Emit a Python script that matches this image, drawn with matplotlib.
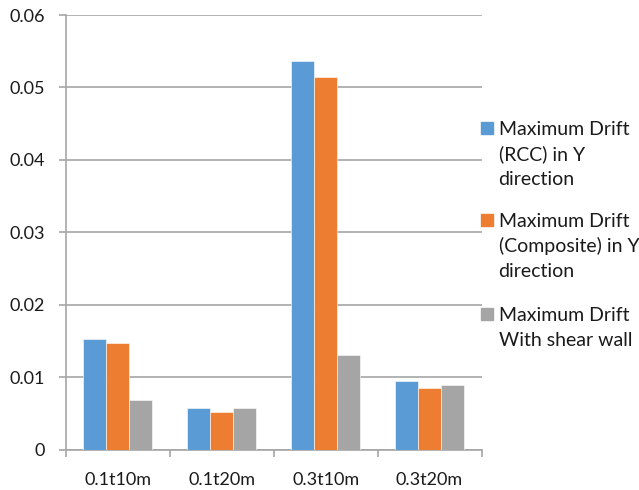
import matplotlib.pyplot as plt
import numpy as np
from matplotlib.patches import Rectangle

plt.rcParams['font.family'] = ['Lato', 'DejaVu Sans']

cases = ["0.1t10m", "0.1t20m", "0.3t10m", "0.3t20m"]
drift_rcc = [0.0152, 0.0057, 0.0536, 0.0094]
drift_composite = [0.0147, 0.0052, 0.0514, 0.0085]
drift_shear_wall = [0.0069, 0.0057, 0.0130, 0.0089]

series = [
    ("Maximum Drift\n(RCC) in Y\ndirection", drift_rcc, "#5B9BD5"),
    ("Maximum Drift\n(Composite) in Y\ndirection", drift_composite, "#ED7D31"),
    ("Maximum Drift\nWith shear wall", drift_shear_wall, "#A5A5A5"),
]

W, H = 639, 490
fig = plt.figure(figsize=(W / 100, H / 100), dpi=100)
ax = fig.add_axes([65.7 / W, 1 - 449.5 / H, (481.5 - 65.7) / W, (449.5 - 15) / H])

x = np.arange(len(cases))
width = 0.222
for i, (label, vals, color) in enumerate(series):
    ax.bar(x + (i - 1) * width, vals, width, color=color, label=label,
           edgecolor="white", linewidth=0.4, zorder=3)

ax.set_xlim(-0.5, len(cases) - 0.5)
ax.set_ylim(0, 0.06)
ax.set_yticks(np.arange(0, 0.061, 0.01))
ax.set_yticklabels(["0", "0.01", "0.02", "0.03", "0.04", "0.05", "0.06"])
ax.yaxis.grid(True, color="#A6A6A6", linewidth=1.2, zorder=0)

# category labels centered, tick marks between groups
ax.set_xticks(x)
ax.set_xticklabels(cases)
ax.set_xticks(np.arange(-0.5, len(cases), 1), minor=True)
ax.tick_params(axis="x", which="major", length=0, pad=16)
ax.tick_params(axis="x", which="minor", length=5, color="#A6A6A6", width=1.2)
ax.tick_params(axis="y", length=5, color="#A6A6A6", width=1.2, pad=10)
ax.tick_params(labelsize=13, labelcolor="#1a1a1a")

for side in ["top", "right"]:
    ax.spines[side].set_visible(False)
for side in ["left", "bottom"]:
    ax.spines[side].set_color("#A6A6A6")
    ax.spines[side].set_linewidth(1.2)

# legend drawn by hand: square beside the first line of each wrapped label
first_baselines = [135, 227, 321]
line_pitch = 25
for (label, _, color), base in zip(series, first_baselines):
    fig.patches.append(Rectangle((481 / W, 1 - (base - 1) / H), 12 / W, 12 / H,
                                 transform=fig.transFigure, color=color))
    for k, line in enumerate(label.split("\n")):
        fig.text(498.5 / W, 1 - (base + k * line_pitch) / H, line,
                 fontsize=14, color="#1a1a1a", va="baseline", ha="left")

fig.savefig("out.png", dpi=100)
